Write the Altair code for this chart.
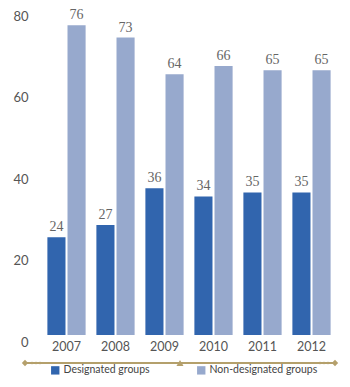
import altair as alt
import pandas as pd

years = ["2007", "2008", "2009", "2010", "2011", "2012"]
designated = [24, 27, 36, 34, 35, 35]
non_designated = [76, 73, 64, 66, 65, 65]
series = ["Designated groups", "Non-designated groups"]
colors = ["#3165ae", "#97a9cd"]

rows = []
for i, y in enumerate(years):
    rows.append({"year": y, "group": series[0], "value": designated[i]})
    rows.append({"year": y, "group": series[1], "value": non_designated[i]})
df = pd.DataFrame(rows)

x = alt.X("year:N", sort=years, title=None,
          scale=alt.Scale(paddingInner=0.22, paddingOuter=0.11),
          axis=alt.Axis(domain=False, ticks=False, labelAngle=0, labelPadding=5,
                        labelFont="Lato", labelFontSize=12.5, labelColor="#555555",
                        labelBaseline="top"))
xo = alt.XOffset("group:N", sort=series, scale=alt.Scale(paddingInner=0.1))
y = alt.Y("value:Q", title=None,
          scale=alt.Scale(domain=[0, 80], nice=False),
          axis=alt.Axis(values=[0, 20, 40, 60, 80], grid=False, domain=False, ticks=False,
                        labelPadding=14, labelFont="Lato", labelFontSize=13,
                        labelColor="#555555", labelOffset=7))
color = alt.Color("group:N", sort=series,
                  scale=alt.Scale(domain=series, range=colors),
                  legend=alt.Legend(title=None, orient="none", legendX=8, legendY=356,
                                    direction="horizontal", symbolType="square",
                                    symbolSize=70, symbolStrokeWidth=0, symbolOpacity=1,
                                    labelFont="Lato", labelFontSize=10.5,
                                    labelColor="#444444", columnPadding=46,
                                    labelOffset=3))

bars = alt.Chart(df).mark_bar(opacity=1).encode(x=x, xOffset=xo, y=y, color=color)
labels = alt.Chart(df).mark_text(baseline="bottom", dy=-3, font="Liberation Serif",
                                 fontSize=14, color="#666666").encode(
    x=alt.X("year:N", sort=years), xOffset=xo, y="value:Q", text="value:Q")

gold = "#b5a06c"
line = alt.Chart(df).mark_rule(color=gold, strokeWidth=1.5).encode(
    x=alt.value(-17), x2=alt.value(293), y=alt.value(354))
orn_df = pd.DataFrame({"px": [-17, -10, -6, -2, 138, 278, 282, 286, 293],
                       "sz": [40, 6, 6, 6, 50, 6, 6, 6, 40],
                       "sh": ["diamond", "circle", "circle", "circle", "triangle-up",
                              "circle", "circle", "circle", "diamond"]})
orn = alt.Chart(orn_df).mark_point(filled=True, color=gold, opacity=1).encode(
    x=alt.value(0), y=alt.value(354))
orn_layers = []
for px, sz, sh in zip(orn_df["px"], orn_df["sz"], orn_df["sh"]):
    orn_layers.append(alt.Chart(df.head(1)).mark_point(filled=True, color=gold, opacity=1,
                                                       size=int(sz), shape=sh).encode(
        x=alt.value(float(px)), y=alt.value(354)))

chart = alt.layer(bars, labels, line, *orn_layers).properties(
    width=294, height=326,
    autosize=alt.AutoSizeParams(type="none"),
    padding={"left": 42, "top": 9, "right": 14, "bottom": 52},
).configure_view(stroke=None)

chart.save("out.html", embed_options={"renderer": "svg", "actions": False})
